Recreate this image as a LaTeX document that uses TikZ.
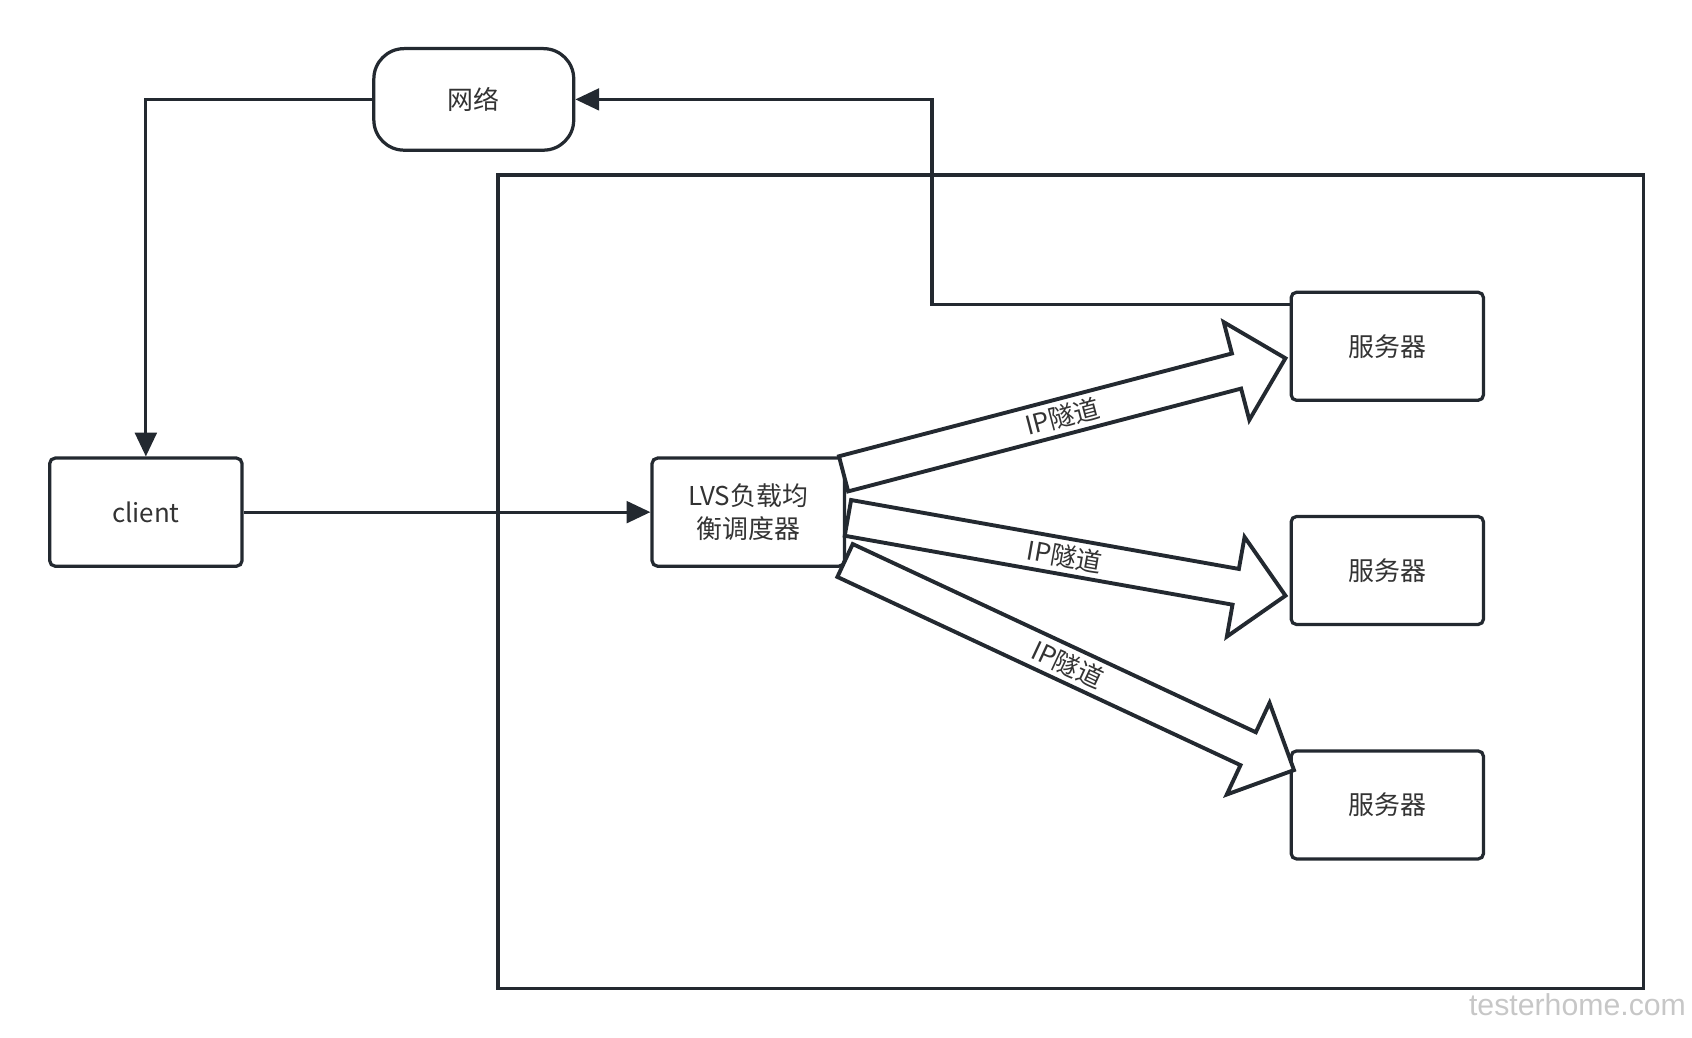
\documentclass[tikz,border=0pt]{standalone}
\usepackage{fontspec}
\setmainfont{Noto Sans CJK SC}
\newfontfamily\wmfont{Liberation Sans}
\usetikzlibrary{arrows.meta,shapes.arrows,calc}
\definecolor{ink}{RGB}{35,41,48}
\definecolor{txt}{RGB}{51,51,51}
\begin{document}
\begin{tikzpicture}[x=1pt,y=-1pt,
  box/.style={draw=ink, line width=3pt, rounded corners=5pt, fill=white,
    minimum width=178pt, minimum height=100pt, inner sep=0pt,
    text=txt, font=\fontsize{24}{30}\selectfont, align=center},
  cloud/.style={box, rounded corners=28pt, minimum width=185pt, minimum height=94pt},
  frame/.style={draw=ink, line width=3pt, minimum width=1060pt, minimum height=753pt, inner sep=0pt},
  flow/.style={draw=ink, line width=3pt, -{Triangle[length=22pt,width=20pt]}},
  tunnel/.style={single arrow, draw=ink, line width=3.6pt, fill=white,
    text height=17pt, text depth=3pt,
    inner ysep=5pt, inner xsep=0pt, single arrow head extend=30pt,
    single arrow tip angle=90, anchor=tail},
  tlabel/.style={text=txt, font=\fontsize{24}{24}\selectfont, inner sep=0pt},
]
\useasboundingbox (0,0) rectangle (1566,960);

% container
\node[frame] (frame) at (991,538.5) {};

% nodes
\node[cloud] (net) at (438.5,92) {网络};
\node[box] (client) at (135,474) {client};
\node[box] (lvs) at (692.5,474) {LVS负载均\\衡调度器};
\node[box] (s1) at (1284,320.5) {服务器};
\node[box] (s2) at (1284,528) {服务器};
\node[box] (s3) at (1284,745) {服务器};

% connectors
\draw[flow] (client) -- (lvs);
\draw[flow] (net.west) -| (client.north);
\coordinate (s1out) at ($(s1.north west)+(0,13)$);
\draw[flow] (s1out) -- ++(-331,0) |- (net.east);

% IP tunnels
\coordinate (t1) at (779,439);   \coordinate (h1) at (1188,332);
\coordinate (t2) at (783,479);   \coordinate (h2) at (1188,551);
\coordinate (t3) at (780.5,518); \coordinate (h3) at (1196,712);
\foreach \a/\b/\k in {t1/h1/1,t2/h2/2,t3/h3/3}{
  \path let \p1=($(\b)-(\a)$), \n1={atan2(\y1,\x1)}, \n2={veclen(\x1,\y1)} in
    node[tunnel, rotate=\n1, minimum height=\n2] (ip\k) at (\a) {}
    node[tlabel, rotate=\n1] (ipl\k) at ($(\a)!0.5!(\b)$) {IP隧道};
}

% watermark
\node[text=black!22, font=\wmfont\fontsize{28}{28}\selectfont] (wm) at (1460,930) {testerhome.com};
\end{tikzpicture}
\end{document}
